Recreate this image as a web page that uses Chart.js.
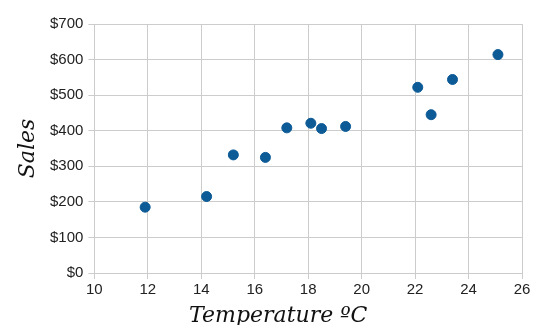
<!DOCTYPE html>
<html>
<head>
<meta charset="utf-8">
<script src="https://cdn.jsdelivr.net/npm/chart.js@4/dist/chart.umd.min.js"></script>
<style>
  html, body { margin: 0; padding: 0; background: #fff; }
  #wrap { width: 545px; height: 325px; }
</style>
</head>
<body>
<div id="wrap"><canvas id="chart"></canvas></div>
<script>
// temperature (C) against ice cream sales ($)
var temps = [14.2, 16.4, 11.9, 15.2, 18.5, 22.1, 19.4, 25.1, 23.4, 18.1, 22.6, 17.2];
var sales = [215, 325, 185, 332, 406, 522, 412, 614, 544, 421, 445, 408];
var xTicks = [10, 12, 14, 16, 18, 20, 22, 24, 26];
var yTicks = [0, 100, 200, 300, 400, 500, 600, 700];
var xTitle = 'Temperature ºC';
var yTitle = 'Sales';

var pts = [];
for (var i = 0; i < temps.length; i++) {
	pts.push({ x: temps[i], y: sales[i] });
}

var gridCol = '#cccccc';
var tickFont = { family: 'Liberation Sans', size: 15 };
var titleFont = 'italic 22px "DejaVu Serif"';

// axis titles drawn by hand so the x one can sit left of centre
var axisTitles = {
	id: 'axisTitles',
	afterDraw: function (chart) {
		var ctx = chart.ctx, a = chart.chartArea;
		ctx.save();
		ctx.font = titleFont;
		ctx.fillStyle = '#111';
		ctx.textAlign = 'center';
		ctx.textBaseline = 'alphabetic';
		ctx.fillText(xTitle, a.left + (a.right - a.left) * 0.43, 322);
		ctx.translate(34, (a.top + a.bottom) / 2);
		ctx.rotate(-Math.PI / 2);
		ctx.fillText(yTitle, 0, 0);
		ctx.restore();
	}
};

new Chart(document.getElementById('chart'), {
	type: 'scatter',
	data: {
		datasets: [{
			data: pts,
			backgroundColor: '#0c5a96',
			borderColor: '#0c5a96',
			pointRadius: 5,
			pointHoverRadius: 5
		}]
	},
	options: {
		responsive: true,
		maintainAspectRatio: false,
		animation: false,
		layout: { padding: { left: 45, right: 23, top: 24, bottom: 24 } },
		plugins: { legend: { display: false }, tooltip: { enabled: false } },
		scales: {
			x: {
				type: 'linear',
				min: 10, max: 26,
				afterBuildTicks: function (ax) { ax.ticks = xTicks.map(function (v) { return { value: v }; }); },
				grid: { color: gridCol, tickLength: 6, lineWidth: 1 },
				border: { color: gridCol },
				ticks: { color: '#222', font: tickFont, padding: 2, maxRotation: 0 }
			},
			y: {
				type: 'linear',
				min: 0, max: 700,
				afterBuildTicks: function (ax) { ax.ticks = yTicks.map(function (v) { return { value: v }; }); },
				grid: { color: gridCol, tickLength: 6, lineWidth: 1 },
				border: { color: gridCol },
				ticks: {
					color: '#222', font: tickFont, padding: 5,
					callback: function (v) { return '$' + v; }
				}
			}
		}
	},
	plugins: [axisTitles]
});
</script>
</body>
</html>
